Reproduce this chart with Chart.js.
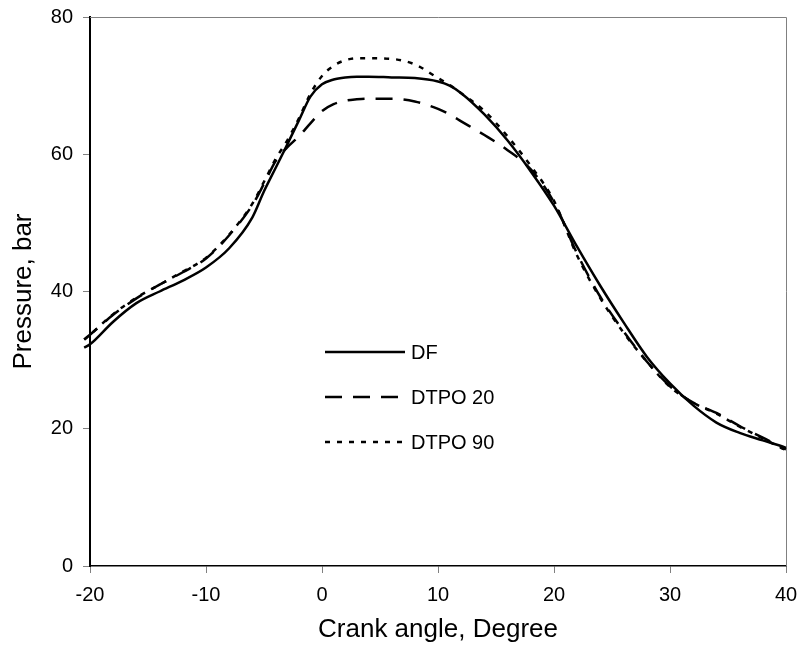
<!DOCTYPE html>
<html>
<head>
<meta charset="utf-8">
<script src="https://cdn.jsdelivr.net/npm/chart.js@4/dist/chart.umd.min.js"></script>
<style>
  html, body { margin: 0; padding: 0; background: #fff; }
  #wrap { width: 802px; height: 647px; }
</style>
</head>
<body>
<div id="wrap"><canvas id="pressureChart" width="802" height="647"></canvas></div>
<script>
// crank angle (degree) and cylinder pressure (bar)
const crankAngle = [-20.5, -20, -18, -16, -14, -12, -10, -8, -6, -5, -4, -3, -2, -1, 0, 1, 2, 3, 4, 6, 8, 10, 11, 12, 14, 16, 18, 20, 22, 24, 26, 28, 30, 32, 34, 36, 38, 40, 40.5];
const pressureDF = [31.8, 32.3, 35.6, 38.3, 40.0, 41.6, 43.5, 46.3, 50.8, 54.6, 58.0, 61.4, 64.9, 68.4, 70.2, 70.9, 71.2, 71.3, 71.3, 71.2, 71.1, 70.6, 70.0, 68.9, 65.8, 62.0, 57.5, 52.5, 46.5, 40.8, 35.5, 30.5, 26.6, 23.4, 20.9, 19.4, 18.3, 17.2, 16.8];
const pressureDTPO20 = [33.0, 33.7, 36.6, 39.0, 41.0, 42.8, 44.8, 48.2, 52.6, 55.7, 59.0, 61.0, 62.6, 64.5, 66.3, 67.3, 67.8, 68.0, 68.1, 68.1, 67.7, 66.6, 65.8, 64.8, 62.8, 60.6, 57.8, 53.0, 45.5, 39.2, 34.2, 29.8, 26.2, 23.8, 22.3, 20.4, 18.7, 17.0, 16.7];
const pressureDTPO90 = [33.0, 33.7, 36.7, 39.1, 41.0, 42.9, 44.9, 48.3, 52.8, 56.0, 59.3, 62.0, 65.2, 68.8, 71.4, 72.9, 73.7, 74.0, 74.0, 73.9, 73.1, 71.1, 70.1, 68.9, 66.3, 62.6, 58.3, 53.2, 45.2, 39.0, 34.0, 29.8, 26.1, 23.8, 22.2, 20.3, 18.6, 16.9, 16.6];

const xTicks = [-20, -10, 0, 10, 20, 30, 40];
const yTicks = [0, 20, 40, 60, 80];

const FONT = "'Liberation Sans', Arial, sans-serif";

const toPoints = vals => vals.map((v, i) => ({ x: crankAngle[i], y: v }));

// top + right frame in grey, plus the legend inside the plot
const framePlugin = {
  id: "frame",
  beforeDatasetsDraw(chart) {
    const { ctx, chartArea: a } = chart;
    ctx.save();
    ctx.strokeStyle = "#808080";
    ctx.lineWidth = 1;
    ctx.beginPath();
    ctx.moveTo(a.left, a.top + 0.5);
    ctx.lineTo(a.right + 0.5, a.top + 0.5);
    ctx.lineTo(a.right + 0.5, a.bottom);
    ctx.stroke();
    ctx.restore();
  },
  afterDatasetsDraw(chart) {
    const { ctx, chartArea: a } = chart;
    const x0 = a.left + 235;
    const lens = [80, 73, 81];
    ctx.save();
    ctx.font = "20px " + FONT;
    ctx.fillStyle = "#000";
    ctx.textBaseline = "middle";
    chart.data.datasets.forEach((ds, i) => {
      const y = a.top + 335 + i * 45;
      ctx.strokeStyle = ds.borderColor;
      ctx.lineWidth = ds.borderWidth;
      ctx.setLineDash(ds.borderDash || []);
      ctx.beginPath();
      ctx.moveTo(x0, y);
      ctx.lineTo(x0 + lens[i], y);
      ctx.stroke();
      ctx.fillText(ds.label, x0 + 86, y + 1);
    });
    ctx.restore();
  }
};

new Chart(document.getElementById("pressureChart"), {
  type: "line",
  data: {
    datasets: [
      { label: "DF", data: toPoints(pressureDF), borderColor: "#000", borderWidth: 2.5, borderDash: [] },
      { label: "DTPO 20", data: toPoints(pressureDTPO20), borderColor: "#000", borderWidth: 2.5, borderDash: [17, 11] },
      { label: "DTPO 90", data: toPoints(pressureDTPO90), borderColor: "#000", borderWidth: 2.5, borderDash: [5, 7] }
    ]
  },
  options: {
    responsive: false,
    animation: false,
    devicePixelRatio: 1,
    layout: { padding: { top: 17, right: 16, left: 0, bottom: 0 } },
    elements: {
      point: { radius: 0 },
      line: { cubicInterpolationMode: "monotone", fill: false }
    },
    datasets: { line: { clip: false } },
    plugins: { legend: { display: false }, tooltip: { enabled: false } },
    scales: {
      x: {
        type: "linear",
        min: -20,
        max: 40,
        afterBuildTicks: s => { s.ticks = xTicks.map(v => ({ value: v })); },
        afterFit: s => { s.height = 81; s.paddingLeft = 0; s.paddingRight = 0; },
        grid: { drawOnChartArea: false, drawTicks: true, tickLength: 7, tickColor: "#808080" },
        border: { color: "#000", width: 1.5 },
        ticks: { color: "#000", padding: 10, font: { family: FONT, size: 20 } },
        title: { display: true, text: "Crank angle, Degree", color: "#000", font: { family: FONT, size: 26 }, padding: { top: 0, bottom: 2 } }
      },
      y: {
        min: 0,
        max: 80,
        afterBuildTicks: s => { s.ticks = yTicks.map(v => ({ value: v })); },
        afterFit: s => { s.width = 90; s.paddingTop = 0; s.paddingBottom = 0; },
        grid: { drawOnChartArea: false, drawTicks: true, tickLength: 7, tickColor: "#808080" },
        border: { color: "#000", width: 2 },
        ticks: { color: "#000", padding: 10, font: { family: FONT, size: 20 } },
        title: { display: true, text: "Pressure, bar", color: "#000", font: { family: FONT, size: 26 }, padding: { top: 8, bottom: 0 } }
      }
    }
  },
  plugins: [framePlugin]
});
</script>
</body>
</html>
